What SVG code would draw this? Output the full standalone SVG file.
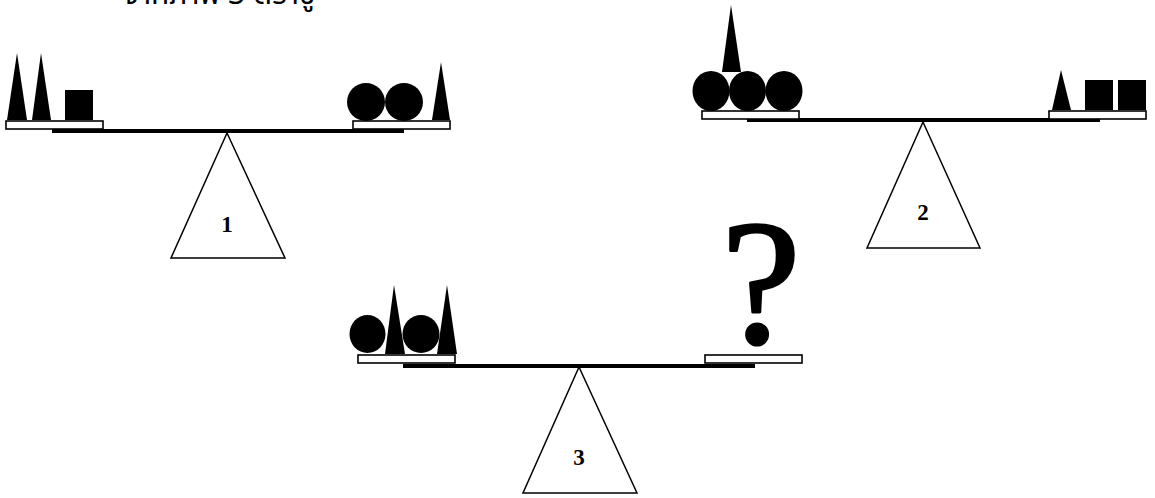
<svg xmlns="http://www.w3.org/2000/svg" width="1155" height="498" viewBox="0 0 1155 498">
<style>
.beam{fill:#000}
.pan{fill:#fff;stroke:#000;stroke-width:1.6}
.wt{fill:#000}
.base{fill:#fff;stroke:#000;stroke-width:1.5;stroke-linejoin:miter}
.lbl{font-family:"Liberation Serif",serif;font-weight:bold;font-size:23px;text-anchor:middle;fill:#000}
.cap{font-family:"Noto Sans Thai","Noto Serif Thai","Noto Sans",sans-serif;font-size:30px;fill:#000}
.q{font-family:"Liberation Serif",serif;font-size:178px;text-anchor:middle;fill:#000;stroke:#000;stroke-width:3;stroke-linejoin:round}
</style>
<rect width="1155" height="498" fill="#fff"/>
<text class="cap" x="123" y="4">จากภาพ 3 ตราชู</text>

<g id="scale1">
  <polygon class="base" points="227,133 171,258 285,258"/>
  <rect class="beam" x="52" y="129" width="352" height="4"/>
  <rect class="pan" x="6" y="121" width="97" height="8"/>
  <rect class="pan" x="353" y="121" width="97" height="8"/>
  <polygon class="wt" points="17,53 7,120 27,120"/>
  <polygon class="wt" points="41,53 32,120 51,120"/>
  <rect class="wt" x="65" y="90" width="28" height="30"/>
  <circle class="wt" cx="366" cy="102" r="19"/>
  <circle class="wt" cx="404" cy="102" r="19"/>
  <polygon class="wt" points="441,62 432,120 450,120"/>
  <text class="lbl" x="227" y="232">1</text>
</g>

<g id="scale2">
  <polygon class="base" points="923,122 867,248 980,248"/>
  <rect class="beam" x="747" y="118" width="353" height="4"/>
  <rect class="pan" x="702" y="111" width="97" height="8"/>
  <rect class="pan" x="1049" y="111" width="97" height="8"/>
  <ellipse class="wt" cx="711" cy="91" rx="18.5" ry="20"/>
  <ellipse class="wt" cx="747.5" cy="91" rx="18.5" ry="20"/>
  <ellipse class="wt" cx="784" cy="91" rx="18.5" ry="20"/>
  <polygon class="wt" points="731,5 722,72 741,72"/>
  <polygon class="wt" points="1061,70 1052,110 1071,110"/>
  <rect class="wt" x="1085" y="80" width="28" height="30"/>
  <rect class="wt" x="1118" y="80" width="28" height="30"/>
  <text class="lbl" x="923" y="220">2</text>
</g>

<g id="scale3">
  <polygon class="base" points="579,367 523,493 637,493"/>
  <rect class="beam" x="403" y="364" width="352" height="4"/>
  <rect class="pan" x="358" y="355" width="97" height="8"/>
  <rect class="pan" x="705" y="355" width="97" height="8"/>
  <ellipse class="wt" cx="367.5" cy="334" rx="18" ry="19"/>
  <polygon class="wt" points="394,285 385,354 405,354"/>
  <ellipse class="wt" cx="421" cy="334" rx="18.5" ry="19"/>
  <polygon class="wt" points="447,285 437,354 457,354"/>
  <text class="q" x="761" y="342">?</text>
  <text class="lbl" x="579" y="465">3</text>
</g>
<g id="connectors"/>
</svg>
